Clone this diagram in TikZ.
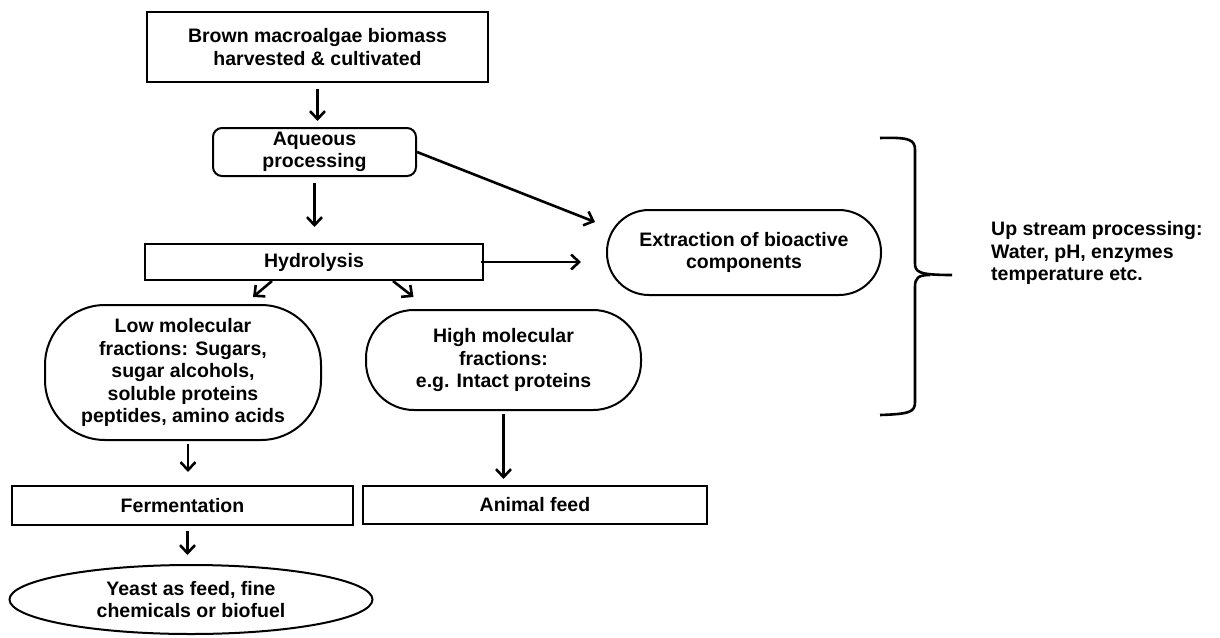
\documentclass[tikz,border=0pt]{standalone}
\usepackage{fontspec}
\setmainfont{Liberation Sans}
\usetikzlibrary{calc, positioning}
\usetikzlibrary{arrows.meta}
\usetikzlibrary{shapes.geometric}

\begin{document}
\begin{tikzpicture}[x=1pt,y=-1pt,
  every node/.style={font=\fontsize{19.5}{22.5}\selectfont\bfseries, align=center, inner sep=0pt},
  box/.style={draw, line width=2pt},
  rbox/.style={box, rounded corners=9pt},
  pill/.style={box, rounded corners=#1},
  oval/.style={draw, line width=2pt, ellipse},
  arr/.style={-{Straight Barb[length=8pt,width=15pt]}, line width=2.6pt},
  brace/.style={line width=2.6pt}]
\useasboundingbox (0,0) rectangle (1220,637);

\node[box, minimum width=341pt, minimum height=70pt] (bio) at (317.5,47) {Brown macroalgae biomass\\harvested \& cultivated};
\node[rbox, minimum width=203pt, minimum height=48pt] (aq) at (314.5,152) {Aqueous\\processing};
\node[box, minimum width=338pt, minimum height=36pt] (hyd) at (314,262) {Hydrolysis};
\node[pill=42pt, minimum width=274pt, minimum height=85pt] (ext) at (744,252.5) {Extraction of bioactive\\components};
\node[pill=60pt, minimum width=276pt, minimum height=135pt] (low) at (183,372.5) {Low molecular\\fractions: Sugars,\\sugar alcohols,\\soluble proteins\\peptides, amino acids};
\node[pill=48pt, minimum width=275pt, minimum height=100pt] (high) at (503.5,360) {High molecular\\fractions:\\e.g. Intact proteins};
\node[box, minimum width=341pt, minimum height=39pt] (ferm) at (182.5,505.5) {Fermentation};
\node[box, minimum width=344pt, minimum height=38pt] (feed) at (535,505) {Animal feed};
\node[oval, minimum width=363pt, minimum height=69pt] (yeast) at (191,599.5) {Yeast as feed, fine\\chemicals or biofuel};
\node[anchor=west, align=left] (ups) at (991,253) {Up stream processing:\\Water, pH, enzymes\\temperature etc.};

\coordinate (extin) at (595,222);

% arrows
\draw[arr, shorten <=6pt, shorten >=6pt] (bio.south) -- (bio.south |- aq.north);
\draw[arr, shorten <=6pt, shorten >=16pt] (aq.south) -- (aq.south |- hyd.north);
\draw[arr] (aq.east) -- (extin);
\draw[arr, shorten <=-3pt, shorten >=25pt] (hyd.east) -- (hyd.east -| ext.west);
\draw[arr] ([xshift=-42pt]hyd.south) -- ([xshift=70pt,yshift=7pt]low.north);
\draw[arr] ([xshift=79pt]hyd.south) -- ([xshift=-90pt,yshift=12pt]high.north);
\draw[arr, shorten <=3pt, shorten >=13pt] ($(low.south)+(5,0)$) -- ($(low.south |- ferm.north)+(5,0)$);
\draw[arr, shorten <=3pt, shorten >=6pt] (high.south) -- (high.south |- feed.north);
\draw[arr, shorten <=5pt, shorten >=9pt] ($(ferm.south)+(5,0)$) -- ($(ferm.south |- yeast.north)+(5,0)$);

% brace
\draw[brace] (880,138) .. controls (910,137) and (915,140) .. (915,150) -- (915,263)
  .. controls (915,272) and (918,275) .. (952,275);
\draw[brace] (930,275) .. controls (918,275) and (915,278) .. (915,287) -- (915,402)
  .. controls (915,412) and (910,414) .. (880,415);
\end{tikzpicture}
\end{document}
